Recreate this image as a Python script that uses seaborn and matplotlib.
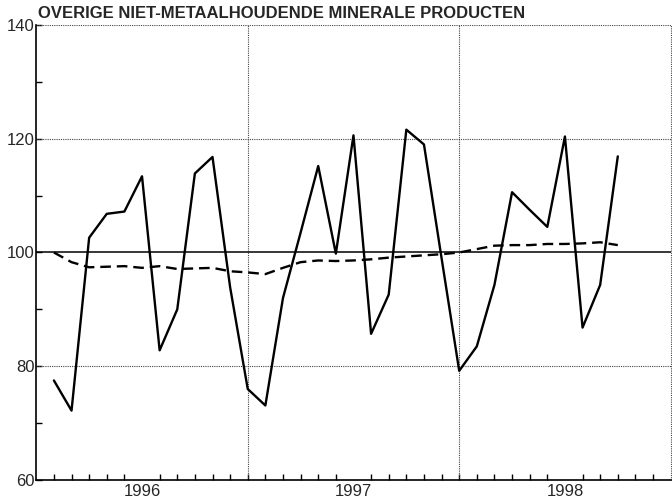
import numpy as np
import pandas as pd
import matplotlib
matplotlib.use('Agg')
import matplotlib.pyplot as plt
import seaborn as sns

# Maandcijfers (index, 1996-01 t/m 1998-09)
maanden = np.arange(1, 34)  # punt aan het eind van elke maand
productie = [77.5, 72.2, 102.6, 106.8, 107.2, 113.4, 82.8, 90.0, 113.9, 116.8, 93.9, 76.0,
             73.1, 92.0, 103.5, 115.2, 99.8, 120.6, 85.7, 92.6, 121.6, 119.0, 99.0, 79.2,
             83.5, 94.3, 110.6, 107.5, 104.5, 120.4, 86.8, 94.3, 116.9]
trend = [100.0, 98.3, 97.4, 97.5, 97.6, 97.3, 97.6, 97.1, 97.2, 97.3, 96.7, 96.5,
         96.2, 97.3, 98.3, 98.6, 98.5, 98.6, 98.8, 99.1, 99.3, 99.5, 99.7, 100.0,
         100.6, 101.2, 101.3, 101.3, 101.5, 101.5, 101.6, 101.8, 101.3]
jaren = ['1996', '1997', '1998']
titel = 'OVERIGE NIET-METAALHOUDENDE MINERALE PRODUCTEN'

df = pd.DataFrame({'maand': maanden, 'productie': productie, 'trend': trend})

sns.set_style('white')
plt.rcParams['font.family'] = ['Liberation Sans', 'DejaVu Sans']

fig = plt.figure(figsize=(6.72, 5.0), dpi=100)
ax = fig.add_axes([0.054, 0.04, 0.944, 0.91])

# rasterlijnen
for y in [80, 120, 140]:
    ax.axhline(y, color='#444444', lw=0.8, ls=(0, (1, 1)), zorder=1)
for x in [12, 24, 36]:
    ax.axvline(x, color='#444444', lw=0.8, ls=(0, (1, 1)), zorder=1, clip_on=False)
ax.axhline(100, color='black', lw=1.1, zorder=2)

sns.lineplot(data=df, x='maand', y='productie', color='black', lw=1.7, ax=ax, zorder=3)
sns.lineplot(data=df, x='maand', y='trend', color='black', lw=1.7, ax=ax, zorder=3)
ax.lines[-1].set_dashes((4.5, 2.5))

ax.set_xlim(0, 36)
ax.set_ylim(60, 140)
ax.set_xlabel('')
ax.set_ylabel('')

for s in ['top', 'right']:
    ax.spines[s].set_visible(False)
for s in ['left', 'bottom']:
    ax.spines[s].set_color('black')
    ax.spines[s].set_linewidth(1.2)

ax.set_yticks([60, 80, 100, 120, 140])
ax.set_yticks([70, 90, 110, 130], minor=True)
ax.set_xticks([6, 18, 30], labels=jaren)
ax.set_xticks(np.arange(1, 36), minor=True)
ax.tick_params(axis='x', which='major', bottom=True, length=0, pad=3, labelsize=12)
ax.tick_params(axis='x', which='minor', bottom=True, direction='in', length=4, width=1,
               color='black')
ax.tick_params(axis='y', which='major', left=True, direction='in', length=4, width=1,
               pad=1, labelsize=12, color='black')
ax.tick_params(axis='y', which='minor', left=True, direction='in', length=4, width=1,
               color='black')

fig.text(0.056, 0.958, titel, fontsize=12, fontweight='bold', ha='left', va='bottom')

fig.savefig('out.png', dpi=100)
